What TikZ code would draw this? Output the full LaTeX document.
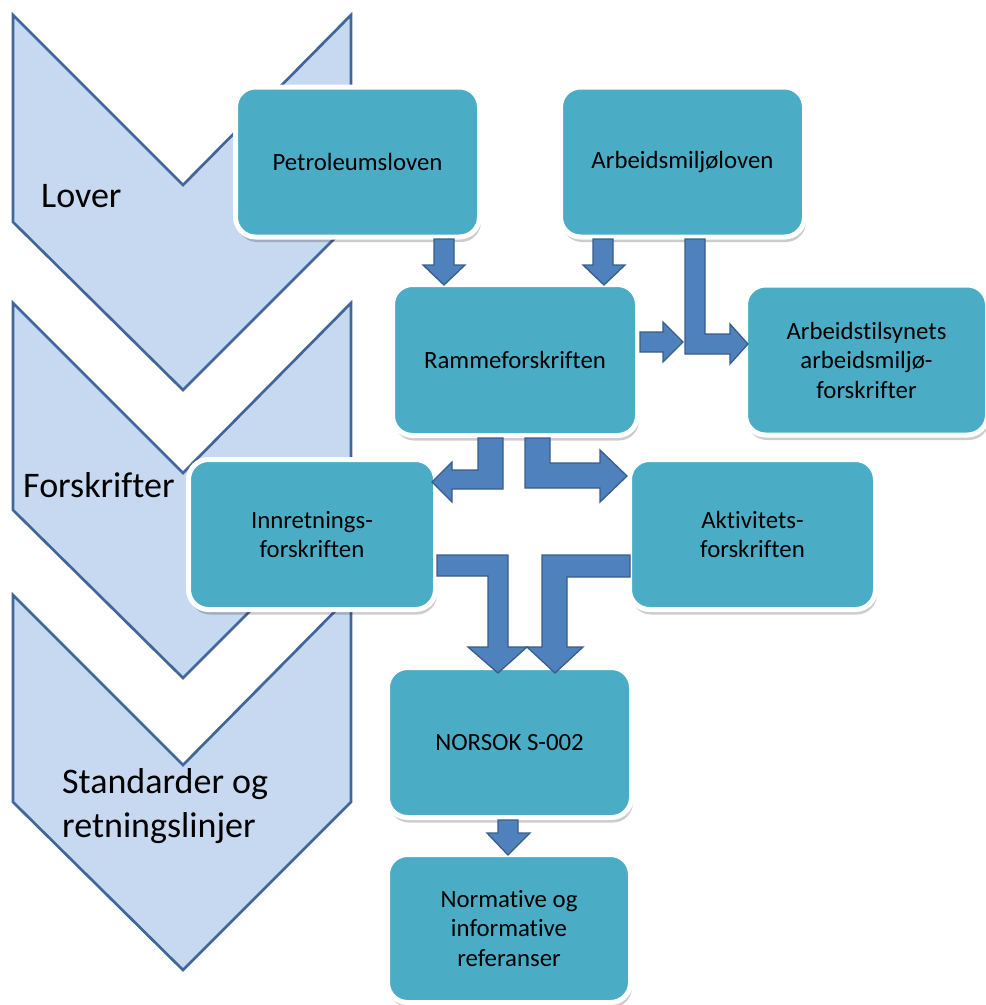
\documentclass[tikz,border=0pt]{standalone}
\usepackage{fontspec}
\setmainfont{Carlito}[RawFeature={-liga,-clig}]
\usetikzlibrary{shadows}
\definecolor{chevfill}{HTML}{C6D9F1}
\definecolor{chevline}{HTML}{41679A}
\definecolor{boxteal}{HTML}{4BACC6}
\definecolor{arrowfill}{HTML}{4F81BD}
\definecolor{arrowline}{HTML}{385D8A}
\tikzset{
  chev/.style={fill=chevfill, draw=chevline, line width=2.7pt, line join=miter},
  barrow/.style={fill=arrowfill, draw=arrowline, line width=1.3pt, line join=miter},
  lawbox/.style={rounded corners=20pt, fill=boxteal, draw=white, line width=5pt,
    inner sep=0pt, align=center, text=black,
    font=\fontsize{24.8}{29.5}\selectfont,
    drop shadow={shadow xshift=1.5pt, shadow yshift=-5pt, opacity=0.2, fill=black},
    minimum width=#1, minimum height=150pt},
  lawbox/.default=245pt,
  levellabel/.style={anchor=base west, inner sep=0pt, text=black,
    font=\fontsize{36}{44}\selectfont}
}
\begin{document}
\begin{tikzpicture}[x=1pt,y=-1pt]
\useasboundingbox (0,0) rectangle (986,1005);
% chevrons
\foreach \dy in {0,288,580}{
  \draw[chev] (13,15+\dy) -- (183,185+\dy) -- (351,15+\dy) -- (351,222+\dy)
    -- (183,390+\dy) -- (13,222+\dy) -- cycle;
}
\node[levellabel] (lover) at (41,207) {Lover};
\node[levellabel] (forskr) at (23,497) {Forskrifter};
\node[levellabel] (std) at (62,837) {\begin{tabular}[b]{@{}l@{}}Standarder og\\retningslinjer\end{tabular}};
% boxes
\node[lawbox=244pt] (pet) at (357.5,162) {Petroleumsloven};
\node[lawbox=244pt] (arb) at (682.5,162) {Arbeidsmiljøloven};
\node[lawbox=245pt, minimum height=151pt] (ram) at (515,360) {Rammeforskriften};
\node[lawbox=242pt, minimum height=150pt] (ats) at (866.5,360) {Arbeidstilsynets\\arbeidsmiljø-\\forskrifter};
\node[lawbox=247pt] (inn) at (312,534.5) {Innretnings-\\forskriften};
\node[lawbox=246pt] (akt) at (752.5,534.5) {Aktivitets-\\forskriften};
\node[lawbox=244pt] (nor) at (509.5,742.5) {NORSOK S-002};
\node[lawbox=243pt, minimum height=148pt] (nrm) at (509,928.5) {Normative og\\informative\\referanser};
% block arrows
% pet -> ram
\draw[barrow] (434,239) -- (454,239) -- (454,265) -- (465,265) -- (444,285)
  -- (423,265) -- (434,265) -- cycle;
% arb -> ram
\draw[barrow] (593,239) -- (613,239) -- (613,265) -- (625,265) -- (604,285)
  -- (583,265) -- (593,265) -- cycle;
% ram -> ats
\draw[barrow] (640,332) -- (663,332) -- (663,322) -- (683,342) -- (663,362)
  -- (663,352) -- (640,352) -- cycle;
% arb -> ats (bent)
\draw[barrow] (685,239) -- (705,239) -- (705,334) -- (730,334) -- (730,324)
  -- (748,344) -- (730,364) -- (730,354) -- (685,354) -- cycle;
% ram -> inn (bent)
\draw[barrow] (478,438) -- (503,438) -- (503,489) -- (452,489) -- (452,502)
  -- (432,482) -- (452,462) -- (452,470) -- (478,470) -- cycle;
% ram -> akt (bent)
\draw[barrow] (525,438) -- (550,438) -- (550,463) -- (600,463) -- (600,450)
  -- (627,476) -- (600,502) -- (600,488) -- (525,488) -- cycle;
% inn -> nor (bent)
\draw[barrow] (437,555) -- (508,555) -- (508,647) -- (527,647) -- (498,673)
  -- (468,647) -- (488,647) -- (488,576) -- (437,576) -- cycle;
% akt -> nor (bent)
\draw[barrow] (630,555) -- (542,555) -- (542,647) -- (527,647) -- (555,673)
  -- (583,647) -- (567,647) -- (567,577) -- (630,577) -- cycle;
% nor -> nrm
\draw[barrow] (498,820) -- (518,820) -- (518,833) -- (530,833) -- (508,855)
  -- (487,833) -- (498,833) -- cycle;
\end{tikzpicture}
\end{document}
